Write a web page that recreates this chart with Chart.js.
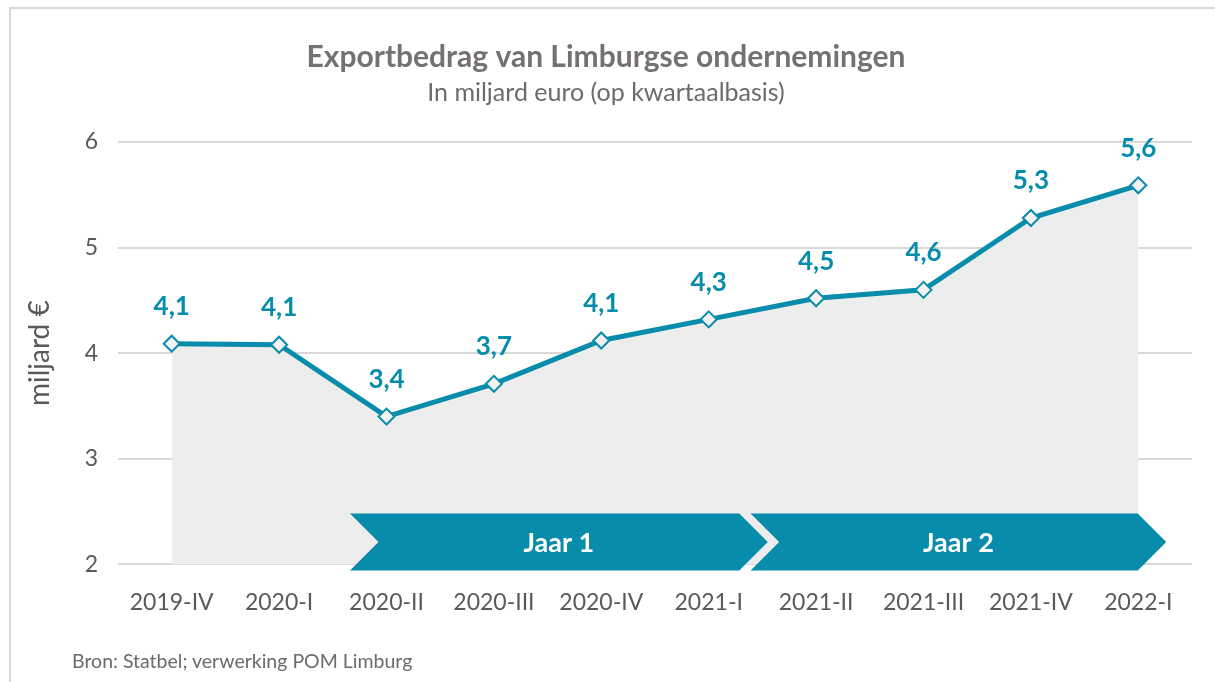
<!DOCTYPE html>
<html>
<head>
<meta charset="utf-8">
<script src="https://cdn.jsdelivr.net/npm/chart.js@4/dist/chart.umd.min.js"></script>
<style>
  html, body { margin: 0; padding: 0; background: #fff; }
  #wrap { position: relative; width: 1215px; height: 682px; overflow: hidden; }
  #frame { position: absolute; left: 9px; top: 7px; right: -2px; bottom: -2px; border-top: 2px solid #d9d9d9; border-left: 2px solid #d9d9d9; }
  #exportChart { position: absolute; left: 0; top: 0; }
  #source { position: absolute; left: 72px; top: 649px; font: 19.5px Lato, sans-serif; color: #6b6b6b; }
</style>
</head>
<body>
<div id="wrap">
  <div id="frame"></div>
  <canvas id="exportChart" width="1215" height="682"></canvas>
  <div id="source">Bron: Statbel; verwerking POM Limburg</div>
</div>
<script>
const quarters = ["2019-IV", "2020-I", "2020-II", "2020-III", "2020-IV", "2021-I", "2021-II", "2021-III", "2021-IV", "2022-I"];
const exportValues = [4.09, 4.08, 3.40, 3.71, 4.12, 4.32, 4.52, 4.60, 5.28, 5.59];
const periodLabels = ["Jaar 1", "Jaar 2"];

const teal = "#078cab";
const grey = "#595959";
const fontFamily = "Lato, 'Open Sans', sans-serif";

// value labels above each point, Dutch decimal comma
const valueLabelsPlugin = {
  id: "valueLabels",
  afterDatasetsDraw(chart) {
    const ctx = chart.ctx;
    const meta = chart.getDatasetMeta(0);
    ctx.save();
    ctx.fillStyle = teal;
    ctx.font = "bold 26px " + fontFamily;
    ctx.textAlign = "center";
    ctx.textBaseline = "middle";
    meta.data.forEach((pt, i) => {
      const txt = exportValues[i].toFixed(1).replace(".", ",");
      ctx.fillText(txt, pt.x, pt.y - 37);
    });
    ctx.restore();
  }
};

// chevron banners for the two years, placed in category units
const periodArrowsPlugin = {
  id: "periodArrows",
  afterDatasetsDraw(chart, args, opts) {
    const ctx = chart.ctx;
    const xs = chart.scales.x;
    const ys = chart.scales.y;
    const top = ys.getPixelForValue(opts.top);
    const bottom = ys.getPixelForValue(opts.bottom);
    const half = (bottom - top) / 2;
    const mid = top + half;
    opts.spans.forEach((span, i) => {
      const left = xs.getPixelForValue(span[0]);
      const tip = xs.getPixelForValue(span[1]);
      const bodyRight = tip - half;
      ctx.save();
      ctx.fillStyle = teal;
      ctx.beginPath();
      ctx.moveTo(left, top);
      ctx.lineTo(bodyRight, top);
      ctx.lineTo(tip, mid);
      ctx.lineTo(bodyRight, bottom);
      ctx.lineTo(left, bottom);
      ctx.lineTo(left + half, mid);
      ctx.closePath();
      ctx.fill();
      ctx.fillStyle = "#ffffff";
      ctx.font = "bold 27px " + fontFamily;
      ctx.textAlign = "center";
      ctx.textBaseline = "middle";
      ctx.fillText(periodLabels[i], (left + tip) / 2, mid + 1);
      ctx.restore();
    });
  }
};

const ctx = document.getElementById("exportChart").getContext("2d");
new Chart(ctx, {
  type: "line",
  data: {
    labels: quarters,
    datasets: [
      {
        data: exportValues,
        borderColor: teal,
        borderWidth: 5,
        backgroundColor: "#ededed",
        fill: "start",
        tension: 0,
        pointStyle: "rectRot",
        pointRadius: 8,
        pointBorderWidth: 2,
        pointBorderColor: teal,
        pointBackgroundColor: "#f2f2f2",
      },
    ],
  },
  options: {
    responsive: false,
    animation: false,
    layout: { padding: { left: 20, right: 23, top: 0, bottom: 42 } },
    plugins: {
      legend: { display: false },
      tooltip: { enabled: false },
      title: {
        display: true,
        text: "Exportbedrag van Limburgse ondernemingen",
        color: "#757171",
        font: { family: fontFamily, size: 30, weight: "bold" },
        padding: { top: 39, bottom: 0 },
      },
      subtitle: {
        display: true,
        text: "In miljard euro (op kwartaalbasis)",
        color: "#6b6b6b",
        font: { family: fontFamily, size: 25 },
        padding: { top: 3, bottom: 34 },
      },
      periodArrows: {
        top: 2.483,
        bottom: 1.943,
        spans: [[1.66, 5.55], [5.39, 9.26]],
      },
    },
    scales: {
      x: {
        offset: true,
        grid: { display: false, drawTicks: false },
        border: { display: false },
        ticks: {
          color: grey,
          font: { family: fontFamily, size: 23 },
          padding: 24,
          maxRotation: 0,
          autoSkip: false,
        },
      },
      y: {
        min: 2,
        max: 6,
        ticks: {
          stepSize: 1,
          color: grey,
          font: { family: fontFamily, size: 23 },
          padding: 20,
        },
        grid: { color: "#d9d9d9", lineWidth: 2, drawTicks: false },
        border: { display: false },
        title: {
          display: true,
          text: "miljard €",
          color: grey,
          font: { family: fontFamily, size: 28 },
          padding: { top: 3, bottom: 0 },
        },
        afterFit(scale) {
          scale.width = 98;
        },
      },
    },
  },
  plugins: [valueLabelsPlugin, periodArrowsPlugin],
});
</script>
</body>
</html>
